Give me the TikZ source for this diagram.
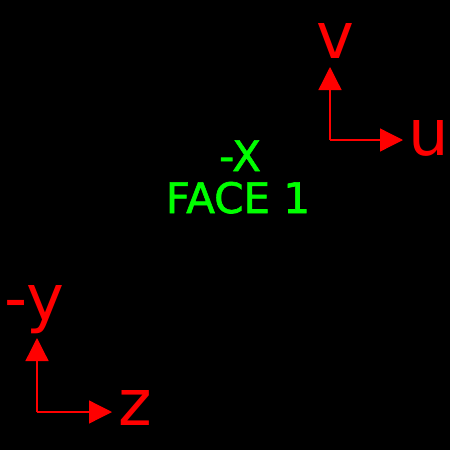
\documentclass[tikz,border=0pt]{standalone}
\usepackage{fontspec}
\setmainfont{DejaVu Sans}
\newfontfamily\facefont[FakeBold=1.5]{DejaVu Sans}
\usetikzlibrary{arrows.meta,positioning}
\definecolor{axisred}{HTML}{FF0000}
\definecolor{facegreen}{HTML}{00FF00}

\begin{document}
\begin{tikzpicture}[
    x=1pt,
    y=-1pt,
    axis/.style={-{Triangle[length=23pt,width=23pt]}, line width=1.3pt, draw=axisred},
    axislabel/.style={text=axisred, inner sep=0pt, anchor=base, font=\fontsize{64}{64}\selectfont},
    facelabel/.style={text=facegreen, inner sep=0pt, anchor=base, font=\facefont\fontsize{42}{42}\selectfont}
  ]
    \fill[black] (0,0) rectangle (450,450);
    \useasboundingbox (0,0) rectangle (450,450);

    % face text
    \node[facelabel] (axisname) at (240,171) {-X};
    \node[facelabel] (facename) at (238,213) {FACE 1};

    % uv axes
    \coordinate (uvorigin) at (330,140);
    \coordinate (vtip) at (330,67);
    \coordinate (utip) at (403,140);
    \node[axislabel] (vlabel) at (335,58) {v};
    \node[axislabel] (ulabel) at (429,155) {u};
    \draw[axis] (uvorigin) -- (vtip);
    \draw[axis] (uvorigin) -- (utip);

    % face axes
    \coordinate (faceorigin) at (37,412);
    \coordinate (ytip) at (37,338);
    \coordinate (ztip) at (112,412);
    \node[axislabel] (ylabel) at (34,320) {-y};
    \node[axislabel] (zlabel) at (135,425) {z};
    \draw[axis] (faceorigin) -- (ytip);
    \draw[axis] (faceorigin) -- (ztip);
  \end{tikzpicture}
\end{document}
